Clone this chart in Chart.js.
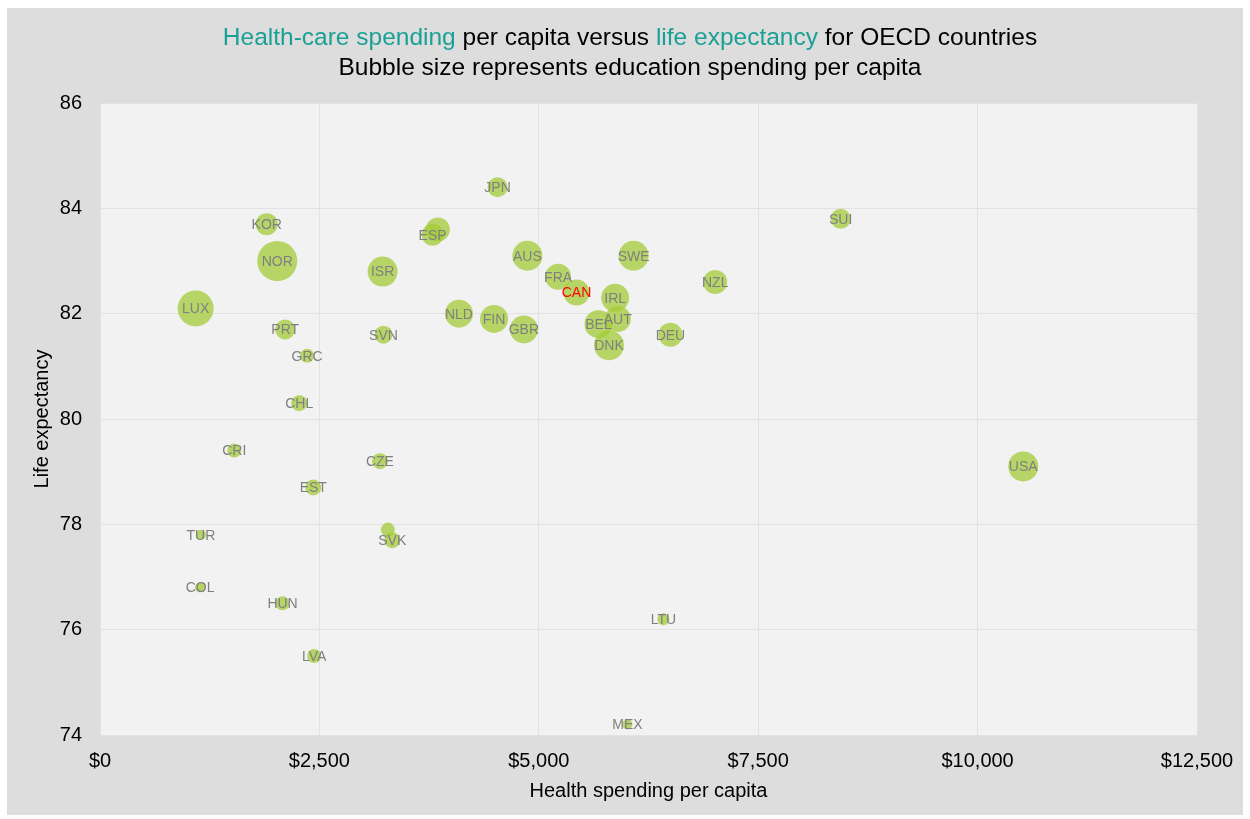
<!DOCTYPE html>
<html>
<head>
<meta charset="utf-8">
<title>Health spending vs life expectancy</title>
<script src="https://cdn.jsdelivr.net/npm/chart.js@4.4.1/dist/chart.umd.min.js"></script>
<style>
  html, body { margin: 0; padding: 0; background: #ffffff; }
  #chart { display: block; }
</style>
</head>
<body>
<canvas id="chart" width="1250" height="819"></canvas>
<script>
// Country codes ('' = bubble drawn without a label)
const countries = ['JPN', 'ESP', '', 'AUS', 'SWE', 'FRA', 'CAN', 'IRL', 'NZL', 'FIN',
  'GBR', 'BEL', 'AUT', 'DNK', 'DEU', 'KOR', 'NOR', 'LUX', 'ISR', 'PRT',
  'SVN', 'GRC', 'NLD', 'CHL', 'CRI', 'CZE', 'EST', 'SVK', '', 'TUR',
  'COL', 'HUN', 'LVA', 'SUI', 'USA', 'LTU', 'MEX'];

// Health spending per capita (US$)
const healthSpending = [4530, 3790, 3850, 4870, 6080, 5220, 5430, 5870, 7010, 4490,
  4830, 5680, 5900, 5800, 6500, 1900, 2020, 1090, 3220, 2110,
  3230, 2360, 4090, 2270, 1530, 3190, 2430, 3330, 3280, 1150,
  1140, 2080, 2440, 8440, 10520, 6420, 6010];

// Life expectancy (years)
const lifeExpectancy = [84.4, 83.5, 83.6, 83.1, 83.1, 82.7, 82.4, 82.3, 82.6, 81.9,
  81.7, 81.8, 81.9, 81.4, 81.6, 83.7, 83.0, 82.1, 82.8, 81.7,
  81.6, 81.2, 82.0, 80.3, 79.4, 79.2, 78.7, 77.7, 77.9, 77.8,
  76.8, 76.5, 75.5, 83.8, 79.1, 76.2, 74.2];

// Education spending per capita (US$) -> bubble area
const eduSpending = [5000, 6050, 7200, 11250, 11250, 8450, 8450, 9800, 7200, 9800,
  9800, 9800, 8450, 11250, 7200, 6050, 20000, 16200, 11250, 5000,
  4050, 2450, 9800, 3200, 2450, 3200, 3200, 3200, 2450, 1250,
  1250, 2450, 2450, 5000, 11250, 1800, 1250];

const xTicks = [0, 2500, 5000, 7500, 10000, 12500];
const yTicks = [74, 76, 78, 80, 82, 84, 86];

const maxEdu = Math.max(...eduSpending);
const maxRadius = 20;

const bubbles = countries.map((c, i) => ({
  x: healthSpending[i],
  y: lifeExpectancy[i],
  r: maxRadius * Math.sqrt(eduSpending[i] / maxEdu)
}));

const FONT = '"Liberation Sans", Arial, Helvetica, sans-serif';
const TEAL = '#1ba096';

// Grey panel behind everything, lighter plot area
const backdrop = {
  id: 'backdrop',
  beforeDraw(chart) {
    const { ctx, chartArea: a } = chart;
    ctx.save();
    ctx.fillStyle = '#ffffff';
    ctx.fillRect(0, 0, chart.width, chart.height);
    ctx.fillStyle = '#dcdddc';
    ctx.fillRect(7, 8, chart.width - 14, chart.height - 12);
    ctx.fillStyle = '#f2f2f2';
    ctx.fillRect(a.left, a.top, a.right - a.left, a.bottom - a.top);
    ctx.restore();
  }
};

// Two-line title, first line with coloured words
const titleLines = {
  id: 'titleLines',
  afterDraw(chart) {
    const { ctx } = chart;
    const cx = 630;
    ctx.save();
    ctx.font = '24.5px ' + FONT;
    ctx.textBaseline = 'middle';
    const parts = [
      ['Health-care spending', TEAL],
      [' per capita versus ', '#000000'],
      ['life expectancy', TEAL],
      [' for OECD countries', '#000000']
    ];
    const total = parts.reduce((s, p) => s + ctx.measureText(p[0]).width, 0);
    let x = cx - total / 2;
    ctx.textAlign = 'left';
    parts.forEach(([text, color]) => {
      ctx.fillStyle = color;
      ctx.fillText(text, x, 38);
      x += ctx.measureText(text).width;
    });
    ctx.fillStyle = '#000000';
    ctx.textAlign = 'center';
    ctx.fillText('Bubble size represents education spending per capita', cx, 68);
    ctx.restore();
  }
};

// Country code on each bubble
const bubbleLabels = {
  id: 'bubbleLabels',
  afterDatasetsDraw(chart) {
    const { ctx } = chart;
    const meta = chart.getDatasetMeta(0);
    ctx.save();
    ctx.font = '14px ' + FONT;
    ctx.textAlign = 'center';
    ctx.textBaseline = 'middle';
    meta.data.forEach((pt, i) => {
      const code = countries[i];
      if (!code) return;
      ctx.fillStyle = code === 'CAN' ? '#ff0000' : '#7f7f7f';
      ctx.fillText(code, pt.x, pt.y + 1);
    });
    ctx.restore();
  }
};

new Chart(document.getElementById('chart'), {
  type: 'bubble',
  data: {
    datasets: [{
      data: bubbles,
      backgroundColor: 'rgba(163, 203, 55, 0.75)',
      borderWidth: 0,
      hoverBorderWidth: 0
    }]
  },
  options: {
    responsive: false,
    animation: false,
    layout: { padding: { top: 103, right: 53, left: 0, bottom: 0 } },
    plugins: {
      legend: { display: false },
      tooltip: { enabled: false }
    },
    scales: {
      x: {
        type: 'linear',
        min: 0,
        max: 12500,
        afterFit(scale) { scale.height = 84; },
        afterBuildTicks(scale) { scale.ticks = xTicks.map(v => ({ value: v })); },
        grid: { color: '#e2e2e2', drawTicks: false },
        border: { display: false },
        ticks: {
          padding: 14,
          color: '#000000',
          font: { family: FONT, size: 20 },
          maxRotation: 0,
          callback: v => '$' + v.toLocaleString('en-US')
        },
        title: {
          display: true,
          text: 'Health spending per capita',
          color: '#000000',
          font: { family: FONT, size: 20 },
          padding: { top: 0, bottom: 16 }
        }
      },
      y: {
        type: 'linear',
        min: 74,
        max: 86,
        afterFit(scale) { scale.width = 100; },
        afterBuildTicks(scale) { scale.ticks = yTicks.map(v => ({ value: v })); },
        grid: { color: '#e2e2e2', drawTicks: false },
        border: { display: false },
        ticks: {
          padding: 18,
          color: '#000000',
          font: { family: FONT, size: 20 }
        },
        title: {
          display: true,
          text: 'Life expectancy',
          color: '#000000',
          font: { family: FONT, size: 20 },
          padding: { top: 30, bottom: 0 }
        }
      }
    }
  },
  plugins: [backdrop, titleLines, bubbleLabels]
});
</script>
</body>
</html>
